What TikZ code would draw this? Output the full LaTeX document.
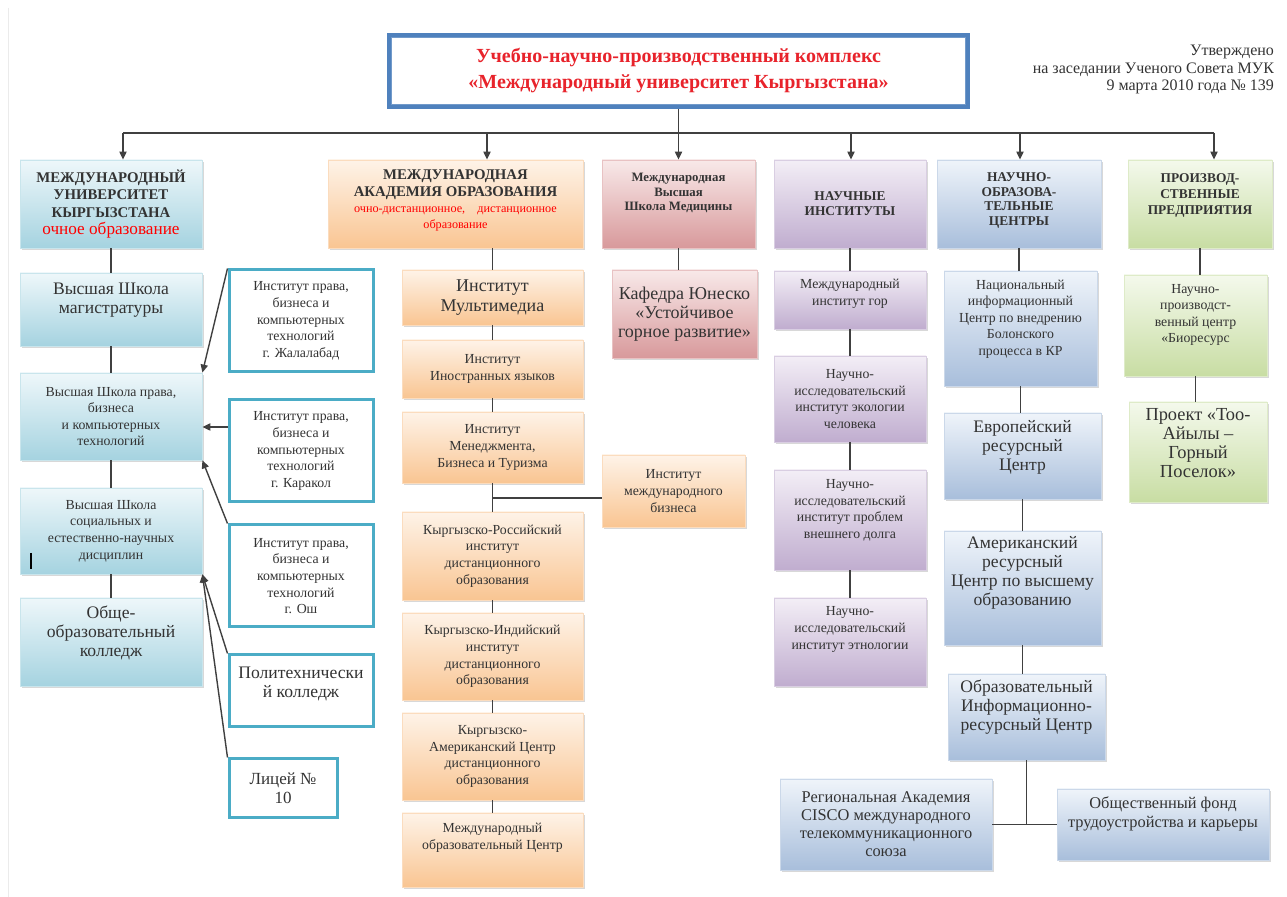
\documentclass[tikz,border=0pt]{standalone}
\usepackage{fontspec}
\setmainfont{Liberation Serif}
\usetikzlibrary{arrows.meta,shadows}

\definecolor{mukA}{HTML}{EEF7FA}\definecolor{mukB}{HTML}{A5D3E0}
\definecolor{maoA}{HTML}{FEF3E8}\definecolor{maoB}{HTML}{F9C592}
\definecolor{medA}{HTML}{F8E9E9}\definecolor{medB}{HTML}{D8999B}
\definecolor{niA}{HTML}{F3EEF6}\definecolor{niB}{HTML}{C0ADCF}
\definecolor{nocA}{HTML}{EFF4FA}\definecolor{nocB}{HTML}{A8BEDB}
\definecolor{ppA}{HTML}{F4F9EC}\definecolor{ppB}{HTML}{C8DDA3}
\definecolor{tealline}{HTML}{4BACC6}
\definecolor{titleblue}{HTML}{4F81BD}
\definecolor{titlered}{HTML}{E8232B}
\definecolor{ink}{HTML}{333333}

\newcommand{\headtxt}{\fontsize{7.4}{8.7}\selectfont\bfseries}
\newcommand{\bigtxt}{\fontsize{8.8}{9.5}\selectfont}
\newcommand{\smtxt}{\fontsize{6.9}{8.3}\selectfont}
\newcommand{\redtxt}{\fontsize{6.1}{6}\selectfont\mdseries\color{red}}

\tikzset{
  unit/.style={rectangle, align=center, inner sep=1pt, text=ink,
    drop shadow={shadow xshift=1pt, shadow yshift=-1.2pt, opacity=0.3}},
  sz/.style 2 args={minimum width=#1*0.5pt, minimum height=#2*0.5pt},
  lifted/.style={text depth=#1*1pt+2pt},
  mukbox/.style={unit, draw=mukB!60, top color=mukA, bottom color=mukB},
  maobox/.style={unit, draw=maoB!60, top color=maoA, bottom color=maoB},
  medbox/.style={unit, draw=medB!60, top color=medA, bottom color=medB},
  nibox/.style={unit, draw=niB!60, top color=niA, bottom color=niB},
  nocbox/.style={unit, draw=nocB!60, top color=nocA, bottom color=nocB},
  ppbox/.style={unit, draw=ppB!60, top color=ppA, bottom color=ppB},
  tealbox/.style={rectangle, align=center, inner sep=1pt, text=ink,
    draw=tealline, line width=1.5pt, fill=white},
  link/.style={draw=black!75, line width=0.7pt},
  arr/.style={link, -{Triangle[length=4pt,width=3.6pt]}},
}

\begin{document}
\begin{tikzpicture}[x=0.5pt, y=-0.5pt]
\fill[white] (0,0) rectangle (1287,897);
\useasboundingbox (0,0) rectangle (1287,897);
\draw[black!8] (8,8) -- (8,897);

% title and note
\node[rectangle, draw=titleblue, line width=2.2pt, sz={579}{72}, align=center,
  text=titlered, font=\fontsize{10}{13}\selectfont\bfseries] (title) at (678.5,71)
  {Учебно-научно-производственный комплекс\\«Международный университет Кыргызстана»};
\draw[titleblue!80, line width=0.6pt] ([shift={(5,5)}]title.north west) rectangle ([shift={(-5,-5)}]title.south east);
\node[anchor=north east, align=right, text=ink, font=\fontsize{8}{8.8}\selectfont] (note) at (1281,38)
  {Утверждено\\на заседании Ученого Совета МУК\\9 марта 2010 года № 139};

% top row
\node[mukbox, sz={182}{88}, font=\headtxt] (muk) at (111,204) {МЕЖДУНАРОДНЫЙ\\УНИВЕРСИТЕТ\\КЫРГЫЗСТАНА\\{\fontsize{8.6}{9.5}\selectfont\mdseries\color{red}очное образование}};
\node[maobox, sz={255}{88}, lifted=3, font=\headtxt] (mao) at (455.5,204) {МЕЖДУНАРОДНАЯ\\АКАДЕМИЯ ОБРАЗОВАНИЯ\\[-0.7pt]{\redtxt очно-дистанционное,\hspace{1em}дистанционное}\\[-0.7pt]{\redtxt образование}};
\node[medbox, sz={153}{88}, lifted=10, font=\fontsize{6.4}{7.3}\selectfont\bfseries] (med) at (678.5,204) {Международная\\Высшая\\Школа Медицины};
\node[nibox, sz={152}{88}, font=\fontsize{6.7}{7.6}\selectfont\bfseries] (ni) at (850,204) {НАУЧНЫЕ\\ИНСТИТУТЫ};
\node[nocbox, sz={164}{88}, lifted=3, font=\fontsize{6.7}{7.4}\selectfont\bfseries] (noc) at (1019,204) {НАУЧНО-\\ОБРАЗОВА-\\ТЕЛЬНЫЕ\\ЦЕНТРЫ};
\node[ppbox, sz={144}{88}, lifted=8, font=\fontsize{6.7}{8}\selectfont\bfseries] (pp) at (1200,204) {ПРОИЗВОД-\\СТВЕННЫЕ\\ПРЕДПРИЯТИЯ};

% left column
\node[mukbox, sz={182}{73}, lifted=9, font=\bigtxt] (mag) at (111,309.5) {Высшая Школа\\магистратуры};
\node[mukbox, sz={182}{87}, font=\smtxt] (prav) at (111,416.5) {Высшая Школа права,\\бизнеса\\и компьютерных\\технологий};
\node[mukbox, sz={182}{86}, font=\smtxt] (soc) at (111,531) {Высшая Школа\\социальных и\\естественно-научных\\дисциплин};
\node[mukbox, sz={182}{88}, lifted=9, font=\bigtxt] (obsh) at (111,642) {Обще-\\образовательный\\колледж};
\draw[black, line width=1pt] (31,553) -- (31,569);

\node[tealbox, sz={144}{102}, font=\smtxt] (jal) at (301,321) {Институт права,\\бизнеса и\\компьютерных\\технологий\\г. Жалалабад};
\node[tealbox, sz={144}{102}, font=\smtxt] (kar) at (301,451) {Институт права,\\бизнеса и\\компьютерных\\технологий\\г. Каракол};
\node[tealbox, sz={144}{102}, font=\smtxt] (osh) at (301,576) {Институт права,\\бизнеса и\\компьютерных\\технологий\\г. Ош};
\node[tealbox, sz={144}{72}, lifted=7, font=\bigtxt] (pol) at (301,691) {Политехнически\\й колледж};
\node[tealbox, sz={108}{59}, font=\fontsize{8.5}{9.3}\selectfont] (lic) at (283,788.5) {Лицей №\\10};

% academy column
\node[maobox, sz={181}{55}, font=\fontsize{9}{9.6}\selectfont] (mult) at (492.5,297.5) {Институт\\Мультимедиа};
\node[maobox, sz={181}{58}, font=\smtxt] (lang) at (492.5,369) {Институт\\Иностранных языков};
\node[maobox, sz={181}{71}, font=\smtxt] (mgmt) at (492.5,447.5) {Институт\\Менеджмента,\\Бизнеса и Туризма};
\node[maobox, sz={143}{72}, font=\smtxt] (ibiz) at (673.5,491) {Институт\\международного\\бизнеса};
\node[maobox, sz={181}{88}, font=\smtxt] (kr) at (492.5,556) {Кыргызско-Российский\\институт\\дистанционного\\образования};
\node[maobox, sz={181}{87}, font=\smtxt] (ki) at (492.5,656.5) {Кыргызско-Индийский\\институт\\дистанционного\\образования};
\node[maobox, sz={181}{87}, font=\smtxt] (ka) at (492.5,756.5) {Кыргызско-\\Американский Центр\\дистанционного\\образования};
\node[maobox, sz={181}{74}, lifted=12, font=\smtxt] (mec) at (492.5,850) {Международный\\образовательный Центр};

\node[medbox, sz={145}{88}, font=\fontsize{9}{9.4}\selectfont] (unesco) at (684.5,314) {Кафедра Юнеско\\«Устойчивое\\горное развитие»};

% institutes column
\node[nibox, sz={152}{58}, lifted=6, font=\smtxt] (gor) at (850,300) {Международный\\институт гор};
\node[nibox, sz={152}{86}, font=\smtxt] (eco) at (850,399) {Научно-\\исследовательский\\институт экологии\\человека};
\node[nibox, sz={152}{100}, lifted=9, font=\smtxt] (dolg) at (850,520) {Научно-\\исследовательский\\институт проблем\\внешнего долга};
\node[nibox, sz={152}{88}, lifted=12, font=\smtxt] (eth) at (850,642) {Научно-\\исследовательский\\институт этнологии};

% centres column
\node[nocbox, sz={153}{115}, lifted=9, font=\smtxt] (bol) at (1020.5,328.5) {Национальный\\информационный\\Центр по внедрению\\Болонского\\процесса в КР};
\node[nocbox, sz={157}{86}, lifted=9, font=\bigtxt] (eur) at (1022.5,456) {Европейский\\ресурсный\\Центр};
\node[nocbox, sz={157}{114}, lifted=15, font=\bigtxt] (amer) at (1022.5,588) {Американский\\ресурсный\\Центр по высшему\\образованию};
\node[nocbox, sz={157}{86}, lifted=10, font=\bigtxt] (oirc) at (1026.5,717) {Образовательный\\Информационно-\\ресурсный Центр};
\node[nocbox, sz={212}{91}, font=\fontsize{8.2}{9}\selectfont] (cisco) at (886,824.5) {Региональная Академия\\CISCO международного\\телекоммуникационного\\союза};
\node[nocbox, sz={212}{71}, lifted=10, font=\fontsize{8.2}{9.5}\selectfont] (fund) at (1163,824.5) {Общественный фонд\\трудоустройства и карьеры};

% enterprises column
\node[ppbox, sz={143}{101}, lifted=10, font=\smtxt] (bio) at (1195.5,325.5) {Научно-\\производст-\\венный центр\\«Биоресурс};
\node[ppbox, sz={138}{100}, lifted=7, font=\fontsize{9.2}{9.5}\selectfont] (too) at (1198,452) {Проект «Тоо-\\Айылы –\\Горный\\Поселок»};

% bar with arrows
\coordinate (a1) at (123,133);
\coordinate (a2) at (487,133);
\coordinate (a3) at (678.5,133);
\coordinate (a4) at (851,133);
\coordinate (a5) at (1020,133);
\coordinate (a6) at (1214,133);
\draw[link] (title.south) -- (title.south |- a1);
\draw[link] (a1) -- (a6);
\foreach \c/\n in {a1/muk, a2/mao, a3/med, a4/ni, a5/noc, a6/pp}
  \draw[arr] (\c) -- (\c |- \n.north);

% chains
\foreach \a/\b in {muk/mag, mag/prav, prav/soc, soc/obsh,
    mult/lang, lang/mgmt, mgmt/kr, kr/ki, ki/ka, ka/mec,
    med/unesco, ni/gor, gor/eco, eco/dolg, dolg/eth,
    noc/bol, bol/eur, eur/amer, amer/oirc, pp/bio, bio/too}
  \draw[link] (\a.south) -- (\a.south |- \b.north);
\draw[link] (mult.north |- mao.south) -- (mult.north);
\coordinate (fork) at (487,498);
\draw[link] (fork -| mgmt.south) -- (fork -| ibiz.west);
\draw[link] (cisco.east) -- (fund.west);
\draw[link] (oirc.south) -- (oirc.south |- cisco.east);

% branch arrows
\draw[arr] (jal.north west) -- (prav.north east);
\draw[arr] (kar.west |- 0,427) -- (prav.east |- 0,427);
\draw[arr] (osh.north west) -- (prav.south east);
\draw[arr] (pol.north west) -- (soc.south east);
\draw[arr] (lic.north west) -- (soc.south east);
\end{tikzpicture}
\end{document}
